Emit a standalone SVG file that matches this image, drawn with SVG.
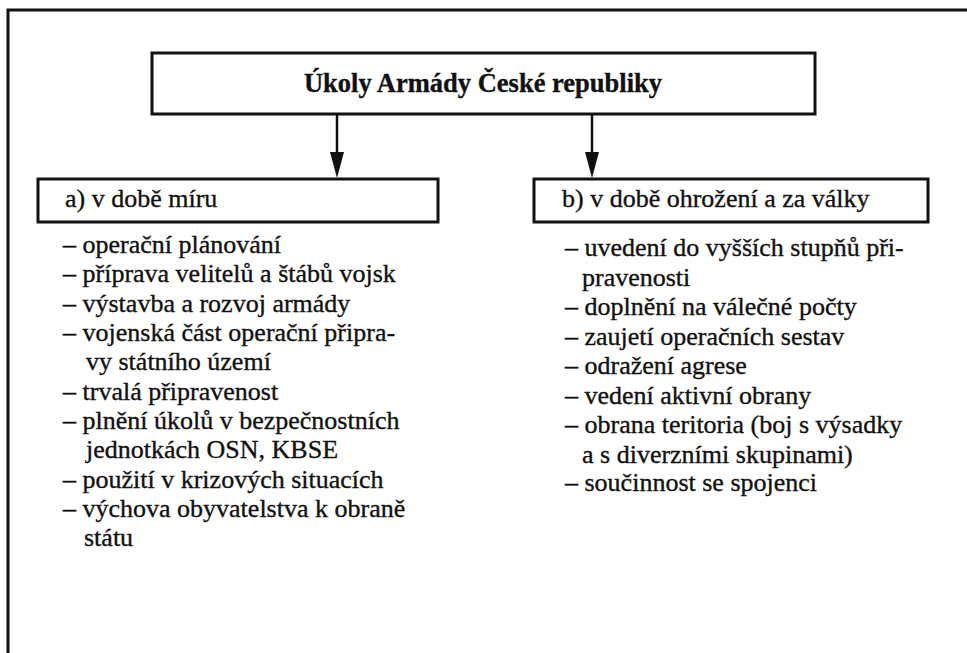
<svg xmlns="http://www.w3.org/2000/svg" width="967" height="653" viewBox="0 0 967 653">
<style>
.box{fill:#fff;stroke:#111;stroke-width:3}
.frame{fill:none;stroke:#111;stroke-width:3}
.conn{fill:none;stroke:#111;stroke-width:2.5}
.head{fill:#111}
.t{font-family:"Liberation Serif","Times New Roman",serif;font-size:26px;fill:#111;stroke:#111;stroke-width:0.35}
.title{font-weight:bold;text-anchor:middle;font-size:26.5px}
</style>
<rect width="967" height="653" fill="#fff"/>
<g id="frame">
<path class="frame" d="M8,653 L8,10 L967,10"/>
</g>
<g id="connectors">
<path class="conn" d="M337,114 L337,153"/>
<path class="head" d="M330,152 L344,152 L337,178 Z"/>
<path class="conn" d="M592,114 L592,153"/>
<path class="head" d="M585,152 L599,152 L592,178 Z"/>
</g>
<g id="title">
<rect class="box" x="152" y="53" width="663" height="61"/>
<text class="t title" x="483" y="92">Úkoly Armády České republiky</text>
</g>
<g id="peace">
<rect class="box" x="38" y="179" width="400" height="43"/>
<text class="t" x="65" y="207">a) v době míru</text>
</g>
<g id="war">
<rect class="box" x="534" y="179" width="394" height="43"/>
<text class="t" x="562" y="207">b) v době ohrožení a za války</text>
</g>
<g id="peace-list">
<text class="t" x="63" y="253">– operační plánování</text>
<text class="t" x="63" y="282">– příprava velitelů a štábů vojsk</text>
<text class="t" x="63" y="311.5">– výstavba a rozvoj armády</text>
<text class="t" x="63" y="341">– vojenská část operační připra-</text>
<text class="t" x="86" y="370">vy státního území</text>
<text class="t" x="63" y="399.5">– trvalá připravenost</text>
<text class="t" x="63" y="429">– plnění úkolů v bezpečnostních</text>
<text class="t" x="86" y="458">jednotkách OSN, KBSE</text>
<text class="t" x="63" y="487.5">– použití v krizových situacích</text>
<text class="t" x="63" y="516.5">– výchova obyvatelstva k obraně</text>
<text class="t" x="84" y="546">státu</text>
</g>
<g id="war-list">
<text class="t" x="565" y="256">– uvedení do vyšších stupňů při-</text>
<text class="t" x="582" y="285.5">pravenosti</text>
<text class="t" x="565" y="315">– doplnění na válečné počty</text>
<text class="t" x="565" y="344.5">– zaujetí operačních sestav</text>
<text class="t" x="565" y="374">– odražení agrese</text>
<text class="t" x="565" y="403.5">– vedení aktivní obrany</text>
<text class="t" x="565" y="433">– obrana teritoria (boj s výsadky</text>
<text class="t" x="582" y="462.5">a s diverzními skupinami)</text>
<text class="t" x="565" y="491">– součinnost se spojenci</text>
</g>
</svg>
